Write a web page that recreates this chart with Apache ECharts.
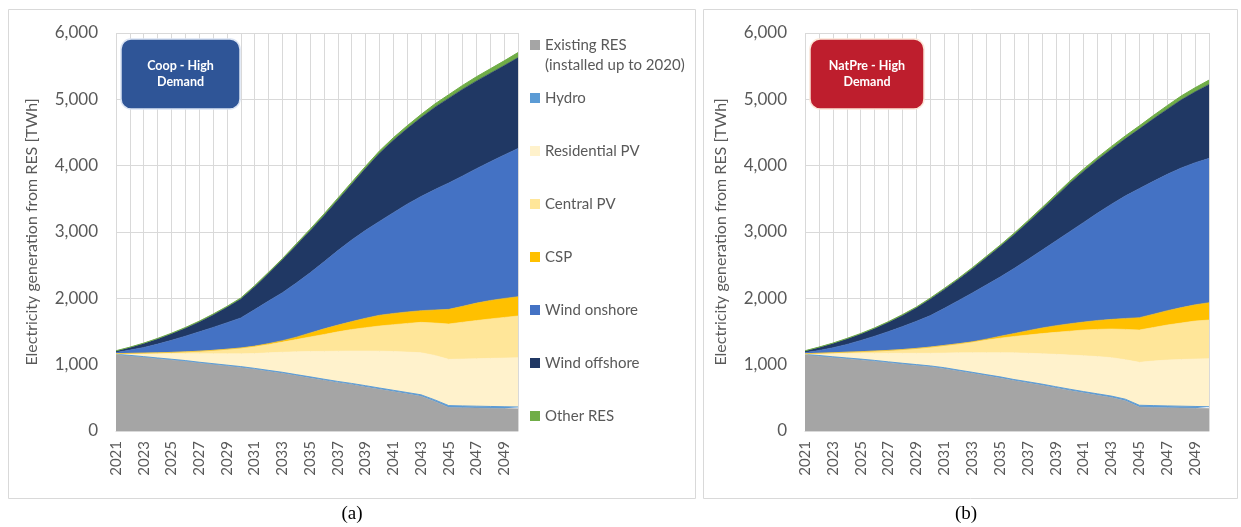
<!DOCTYPE html>
<html>
<head>
<meta charset="utf-8">
<script src="https://cdn.jsdelivr.net/npm/echarts@6/dist/echarts.min.js"></script>
<style>
  html, body { margin: 0; padding: 0; background: #fff; }
  #chart { width: 1241px; height: 527px; }
</style>
</head>
<body>
<div id="chart"></div>
<script>
// years on the category axis
var years = [];
for (var y = 2021; y <= 2050; y++) years.push(String(y));

var seriesNames = ['Existing RES', 'Hydro', 'Residential PV', 'Central PV', 'CSP', 'Wind onshore', 'Wind offshore', 'Other RES'];
var seriesColors = ['#A5A5A5', '#5B9BD5', '#FFF2CC', '#FFE699', '#FFC000', '#4472C4', '#203864', '#70AD47'];
var yTicks = [0, 1000, 2000, 3000, 4000, 5000, 6000];

// (a) Coop - High Demand  [TWh]
var existingA = [1150,1130,1110,1090,1070,1050,1025,1002,980,958,930,900,870,835,800,765,730,700,665,630,595,560,525,445,355,350,346,342,338,334];
var hydroA = [10,10,11,11,12,12,12,13,13,13,14,14,15,15,16,16,17,17,18,18,19,20,21,24,28,28,28,28,28,28];
var resPvA = [3,22,41,62,82,103,128,150,171,192,224,264,303,344,382,419,456,488,522,556,584,610,634,671,697,707,716,725,734,743];
var centralPvA = [3,8,12,16,21,28,38,51,68,87,107,127,152,184,220,255,292,325,353,379,405,432,458,488,533,555,575,595,612,629];
var cspA = [0,0,0,0,0,0,0,0,1,2,5,13,22,37,60,85,102,120,142,162,169,173,176,197,221,240,263,278,286,291];
var onshoreA = [19,50,86,131,183,237,292,346,399,453,550,642,723,815,907,1010,1123,1230,1325,1415,1518,1625,1721,1815,1906,1965,2027,2092,2162,2235];
var offshoreA = [20,38,58,78,97,120,150,188,233,285,345,415,495,570,635,696,764,842,935,1027,1094,1140,1191,1242,1278,1308,1323,1334,1350,1370];
var otherA = [5,6,7,8,9,10,11,12,13,15,16,17,18,20,22,24,26,28,30,33,36,40,44,48,52,57,62,66,70,75];

// (b) NatPre - High Demand  [TWh]
var existingB = [1148,1128,1108,1090,1072,1052,1030,1008,988,968,940,905,870,835,800,760,725,690,650,612,575,540,505,455,360,355,350,346,342,338];
var hydroB = [10,10,11,11,12,12,12,13,13,13,14,14,15,15,16,16,17,17,18,18,19,20,21,24,28,28,28,28,28,28];
var resPvB = [2,24,45,65,84,106,129,151,171,191,221,259,295,331,365,402,430,458,488,516,542,562,580,596,647,672,692,704,715,724];
var centralPvB = [5,10,16,22,28,35,44,56,73,93,115,137,160,189,219,247,275,303,331,359,387,410,432,457,488,505,528,550,573,583];
var cspB = [0,0,0,0,0,0,0,0,0,0,0,0,5,15,28,45,66,85,101,112,120,135,145,165,186,200,216,232,245,262];
var onshoreB = [17,43,75,117,169,225,285,347,410,475,560,650,735,815,892,980,1072,1172,1277,1388,1502,1618,1737,1848,1946,2005,2056,2105,2142,2175];
var offshoreB = [23,44,63,82,96,115,139,168,202,251,285,319,363,412,460,508,561,614,672,730,772,804,831,863,900,941,982,1028,1069,1115];
var otherB = [5,6,7,8,9,10,11,12,13,14,15,16,17,18,20,22,24,26,28,30,33,36,39,42,45,49,53,57,61,65];

var dataA = [existingA, hydroA, resPvA, centralPvA, cspA, onshoreA, offshoreA, otherA];
var dataB = [existingB, hydroB, resPvB, centralPvB, cspB, onshoreB, offshoreB, otherB];

var font = 'Lato';
var grey = '#595959';
var gridColor = '#D9D9D9';

let makeXAxis = (idx) => ({
  type: 'category',
  gridIndex: idx,
  data: years,
  boundaryGap: false,
  axisLine: { lineStyle: { color: gridColor } },
  axisTick: { show: false },
  axisLabel: { interval: 1, rotate: 90, margin: 10, fontSize: 15, color: grey, fontFamily: font },
  splitLine: { show: true, interval: 0, lineStyle: { color: gridColor, width: 1 } }
});

let makeYAxis = (idx) => ({
  type: 'value',
  gridIndex: idx,
  min: yTicks[0],
  max: yTicks[yTicks.length - 1],
  interval: 1000,
  name: 'Electricity generation from RES [TWh]',
  nameLocation: 'middle',
  nameGap: 76,
  nameTextStyle: { fontSize: 16, color: grey, fontFamily: font },
  axisLine: { show: false },
  axisTick: { show: false },
  axisLabel: {
    margin: 18, fontSize: 17, color: grey, fontFamily: font,
    formatter: v => v.toLocaleString('en-US')
  },
  splitLine: { lineStyle: { color: gridColor, width: 1 } }
});

let makeSeries = (data, idx) => data.map((vals, i) => ({
  name: seriesNames[i],
  type: 'line',
  xAxisIndex: idx,
  yAxisIndex: idx,
  stack: 'panel' + idx,
  data: vals,
  showSymbol: false,
  symbol: 'none',
  color: seriesColors[i],
  lineStyle: { width: (i === 1 || i === 7) ? 1 : 0.6, color: seriesColors[i] },
  areaStyle: { color: seriesColors[i], opacity: 1 },
  emphasis: { disabled: true }
}));

var option = {
  backgroundColor: '#fff',
  animation: false,
  grid: [
    { left: 116, top: 33, width: 402, height: 398 },
    { left: 805, top: 33, width: 404, height: 398 }
  ],
  xAxis: [makeXAxis(0), makeXAxis(1)],
  yAxis: [makeYAxis(0), makeYAxis(1)],
  legend: [
    {
      // leading empty line keeps the swatch level with the first text line
      data: ['Existing RES'],
      orient: 'vertical',
      left: 530, top: 15, padding: 0,
      itemWidth: 10, itemHeight: 10, icon: 'rect',
      formatter: () => '\nExisting RES\n(installed up to 2020)',
      textStyle: { fontSize: 15, color: grey, fontFamily: font, lineHeight: 20 },
      selectedMode: false
    },
    {
      data: seriesNames.slice(1),
      orient: 'vertical',
      left: 530, top: 88, padding: 0,
      itemGap: 33,
      itemWidth: 10, itemHeight: 10, icon: 'rect',
      textStyle: { fontSize: 15, color: grey, fontFamily: font, lineHeight: 20 },
      selectedMode: false
    }
  ],
  graphic: [
    { type: 'rect', z: -1, shape: { x: 8.5, y: 9.5, width: 687, height: 489 }, style: { fill: '#fff', stroke: gridColor, lineWidth: 1 } },
    { type: 'rect', z: -1, shape: { x: 703.5, y: 9.5, width: 534, height: 489 }, style: { fill: '#fff', stroke: gridColor, lineWidth: 1 } },
    { type: 'rect', z: 100, shape: { x: 121, y: 39, width: 119, height: 70, r: 10 }, style: { fill: '#2F5597', stroke: '#DAE3F3', lineWidth: 1.5 } },
    { type: 'text', z: 101, style: { text: 'Coop - High\nDemand', x: 180.5, y: 74, textAlign: 'center', textVerticalAlign: 'middle', align: 'center', verticalAlign: 'middle', fill: '#fff', font: 'bold 12.5px Lato', lineHeight: 16 } },
    { type: 'rect', z: 100, shape: { x: 810, y: 39, width: 114, height: 70, r: 10 }, style: { fill: '#BE1E2D', stroke: '#FBE5D6', lineWidth: 1.5 } },
    { type: 'text', z: 101, style: { text: 'NatPre - High\nDemand', x: 867, y: 74, textAlign: 'center', textVerticalAlign: 'middle', align: 'center', verticalAlign: 'middle', fill: '#fff', font: 'bold 12.5px Lato', lineHeight: 16 } },
    { type: 'text', style: { text: '(a)', x: 352, y: 514, textAlign: 'center', textVerticalAlign: 'middle', align: 'center', verticalAlign: 'middle', fill: '#000', font: '19px "Liberation Serif"' } },
    { type: 'text', style: { text: '(b)', x: 966, y: 514, textAlign: 'center', textVerticalAlign: 'middle', align: 'center', verticalAlign: 'middle', fill: '#000', font: '19px "Liberation Serif"' } }
  ],
  series: makeSeries(dataA, 0).concat(makeSeries(dataB, 1))
};

var myChart = echarts.init(document.getElementById('chart'));
myChart.setOption(option);
</script>
</body>
</html>
